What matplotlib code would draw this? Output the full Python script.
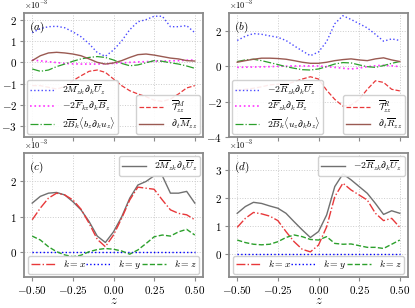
import numpy as np
import matplotlib
matplotlib.use("Agg")
import matplotlib.pyplot as plt
from matplotlib.ticker import ScalarFormatter

plt.rcParams['font.family'] = 'serif'
plt.rcParams['font.serif'] = ['cmr10', 'DejaVu Serif']
plt.rcParams['mathtext.fontset'] = 'cm'
plt.rcParams['axes.formatter.use_mathtext'] = True
plt.rcParams['axes.unicode_minus'] = True

z = [-0.5, -0.45, -0.4, -0.35, -0.3, -0.25, -0.2, -0.15, -0.1, -0.05, 0.0,
     0.05, 0.1, 0.15, 0.2, 0.25, 0.3, 0.35, 0.4, 0.45, 0.5]

# panel (a) / (c), units of 1e-3
M_prod = [1.39, 1.58, 1.67, 1.69, 1.62, 1.43, 1.20, 0.87, 0.46, 0.28, 0.58,
          1.00, 1.53, 1.90, 2.00, 2.16, 2.16, 1.67, 1.67, 1.72, 1.39]
M_F = [0.11, 0.07, 0.03, -0.01, -0.05, -0.07, -0.08, -0.08, -0.08, -0.07, -0.05,
       -0.03, 0.0, 0.02, 0.03, 0.05, 0.06, 0.07, 0.08, 0.10, 0.11]
M_B = [-0.31, -0.42, -0.36, -0.20, -0.08, 0.05, 0.16, 0.23, 0.27, 0.23, 0.11,
       -0.05, -0.16, -0.12, -0.02, 0.08, 0.05, -0.02, -0.08, -0.17, -0.28]
M_T = [-1.09, -1.09, -1.17, -1.25, -1.14, -0.86, -0.63, -0.42, -0.36, -0.47, -0.78,
       -1.09, -1.33, -1.48, -1.61, -1.77, -1.83, -1.72, -1.48, -1.20, -1.09]
M_dt = [0.08, 0.31, 0.44, 0.47, 0.44, 0.39, 0.31, 0.16, 0.0, -0.08, -0.03,
        0.08, 0.23, 0.36, 0.39, 0.34, 0.27, 0.20, 0.16, 0.08, 0.06]
M_kx = [0.92, 1.25, 1.53, 1.67, 1.62, 1.48, 1.22, 0.82, 0.37, 0.16, 0.49,
        0.96, 1.48, 1.84, 1.81, 1.78, 1.48, 1.20, 1.10, 1.06, 0.92]
M_ky = [0.0] * 21
M_kz = [0.46, 0.35, 0.16, 0.02, -0.07, -0.12, -0.08, 0.02, 0.08, 0.11, 0.09,
        0.04, -0.05, 0.07, 0.25, 0.44, 0.49, 0.46, 0.58, 0.65, 0.49]

# panel (b) / (d)
R_prod = [1.46, 1.70, 1.85, 1.81, 1.72, 1.64, 1.46, 1.16, 0.87, 0.60, 0.81,
          1.40, 2.41, 2.86, 2.65, 2.41, 2.17, 1.81, 1.42, 1.55, 1.46]
R_F = [-0.06, -0.05, -0.04, -0.03, -0.02, 0.0, 0.01, 0.02, 0.02, 0.02, 0.02,
       -0.02, -0.06, -0.11, -0.15, -0.10, -0.02, 0.03, 0.06, 0.03, -0.02]
R_B = [0.27, 0.36, 0.40, 0.32, 0.21, 0.10, -0.02, -0.11, -0.19, -0.21, -0.15,
       -0.02, 0.13, 0.21, 0.19, 0.08, -0.02, -0.06, 0.04, 0.17, 0.27]
R_T = [-1.35, -1.30, -1.24, -1.16, -1.05, -1.01, -1.01, -0.88, -0.72, -0.59, -0.72,
       -1.35, -1.87, -2.25, -2.19, -1.87, -1.30, -0.82, -0.91, -1.30, -1.39]
R_dt = [0.23, 0.32, 0.40, 0.46, 0.46, 0.44, 0.40, 0.32, 0.23, 0.17, 0.17,
        0.23, 0.32, 0.38, 0.42, 0.36, 0.32, 0.42, 0.48, 0.36, 0.27]
R_kx = [0.96, 1.28, 1.49, 1.44, 1.36, 1.20, 0.81, 0.45, 0.18, 0.09, 0.33,
        0.98, 2.05, 2.53, 2.29, 2.11, 1.93, 1.46, 1.20, 1.28, 0.96]
R_ky = [0.0] * 21
R_kz = [0.51, 0.42, 0.36, 0.34, 0.36, 0.45, 0.60, 0.69, 0.63, 0.53, 0.51,
        0.63, 0.39, 0.36, 0.37, 0.31, 0.25, 0.25, 0.21, 0.36, 0.51]

xticks = [-0.5, -0.25, 0.0, 0.25, 0.5]

z = np.array(z)
s = 1e-3

fig = plt.figure(figsize=(4.15, 3.08), dpi=100)
W = 0.431
H = 0.402
axa = fig.add_axes([0.058, 0.555, W, H])
axb = fig.add_axes([0.552, 0.555, W, H])
axc = fig.add_axes([0.058, 0.101, W, H])
axd = fig.add_axes([0.552, 0.101, W, H])

c_blue = '#4a4aff'
c_mag = '#ff33ff'
c_green = '#2ca02c'
c_red = '#e8383a'
c_brown = '#9a5a52'
c_grey = '#707070'
fs = 7

def style(ax, ylim, yticks, xlabels):
    ax.set_xlim(-0.55, 0.55)
    ax.set_ylim(ylim[0] * s, ylim[1] * s)
    ax.set_xticks(xticks)
    ax.set_yticks(np.array(yticks) * s)
    fmt = ScalarFormatter(useMathText=True)
    fmt.set_powerlimits((-2, 2))
    ax.yaxis.set_major_formatter(fmt)
    ax.yaxis.get_offset_text().set_fontsize(6)
    ax.grid(True, color='#cccccc', linestyle=':', linewidth=0.7)
    for sp in ax.spines.values():
        sp.set_color('#8a8a8a')
        sp.set_linewidth(1.3)
    ax.tick_params(colors='#8a8a8a', labelcolor='black', labelsize=8, length=3, width=0.8, pad=2)
    if not xlabels:
        ax.tick_params(labelbottom=False)
    else:
        ax.set_xlabel('$z$', fontsize=9, labelpad=-1)

# (a)
axa.plot(z, np.array(M_prod) * s, ':', color=c_blue, lw=1.0, label=r'$2\overline{M}_{zk}\partial_k\overline{U}_z$')
axa.plot(z, np.array(M_F) * s, ':', color=c_mag, lw=1.2, label=r'$-2\overline{F}_{kz}\partial_k\overline{B}_z$')
axa.plot(z, np.array(M_B) * s, '-.', color=c_green, lw=0.9, label=r'$2\overline{B}_k\langle b_z\partial_k u_z\rangle$')
axa.plot(z, np.array(M_T) * s, '--', color=c_red, lw=0.9, label=r'$\overline{\mathcal{T}}^{M}_{zz}$')
axa.plot(z, np.array(M_dt) * s, '-', color=c_brown, lw=1.0, label=r'$\partial_t\overline{M}_{zz}$')
style(axa, (-3.5, 2.3), [-3, -2, -1, 0, 1, 2], False)
h, l = axa.get_legend_handles_labels()
leg1 = axa.legend(h[:3], l[:3], loc='lower left', fontsize=fs, framealpha=0.9, handlelength=2.5,
                  borderpad=0.3, labelspacing=0.2, borderaxespad=0.3)
axa.add_artist(leg1)
axa.legend(h[3:], l[3:], loc='lower right', fontsize=fs, framealpha=0.9, handlelength=2.5,
           borderpad=0.3, labelspacing=0.2, borderaxespad=0.3)
axa.text(0.03, 0.95, '$(a)$', transform=axa.transAxes, fontsize=8, va='top', ha='left')

# (b)
axb.plot(z, np.array(R_prod) * s, ':', color=c_blue, lw=1.0, label=r'$-2\overline{R}_{zk}\partial_k\overline{U}_z$')
axb.plot(z, np.array(R_F) * s, ':', color=c_mag, lw=1.2, label=r'$2\overline{F}_{zk}\partial_k\overline{B}_z$')
axb.plot(z, np.array(R_B) * s, '-.', color=c_green, lw=0.9, label=r'$2\overline{B}_k\langle u_z\partial_k b_z\rangle$')
axb.plot(z, np.array(R_T) * s, '--', color=c_red, lw=0.9, label=r'$\overline{\mathcal{T}}^{R}_{zz}$')
axb.plot(z, np.array(R_dt) * s, '-', color=c_brown, lw=1.0, label=r'$\partial_t\overline{R}_{zz}$')
style(axb, (-4.0, 3.0), [-4, -2, 0, 2], False)
h, l = axb.get_legend_handles_labels()
leg2 = axb.legend(h[:3], l[:3], loc='lower left', fontsize=fs, framealpha=0.9, handlelength=2.5,
                  borderpad=0.3, labelspacing=0.2, borderaxespad=0.3)
axb.add_artist(leg2)
axb.legend(h[3:], l[3:], loc='lower right', fontsize=fs, framealpha=0.9, handlelength=2.5,
           borderpad=0.3, labelspacing=0.2, borderaxespad=0.3)
axb.text(0.03, 0.95, '$(b)$', transform=axb.transAxes, fontsize=8, va='top', ha='left')

def lower(ax, prod, kx, ky, kz, lab, ylim, yticks, tag):
    g, = ax.plot(z, np.array(prod) * s, '-', color=c_grey, lw=1.0, label=lab)
    a, = ax.plot(z, np.array(kx) * s, '-.', color=c_red, lw=1.0, label=r'$k=x$')
    b, = ax.plot(z, np.array(ky) * s, ':', color='blue', lw=1.0, label=r'$k=y$')
    c, = ax.plot(z, np.array(kz) * s, '--', color=c_green, lw=1.0, label=r'$k=z$')
    style(ax, ylim, yticks, True)
    lg = ax.legend([g], [lab], loc='upper right', fontsize=fs, framealpha=0.9, handlelength=2.5,
                   borderpad=0.3, borderaxespad=0.3)
    ax.add_artist(lg)
    ax.legend([a, b, c], [r'$k=x$', r'$k=y$', r'$k=z$'], loc='lower left', ncol=3, mode='expand',
              bbox_to_anchor=(0.02, 0.02, 0.96, 0.2), fontsize=fs, framealpha=0.9, handlelength=2.5,
              borderpad=0.3, borderaxespad=0.0)
    ax.text(0.03, 0.95, tag, transform=ax.transAxes, fontsize=8, va='top', ha='left')

lower(axc, M_prod, M_kx, M_ky, M_kz, r'$2\overline{M}_{zk}\partial_k\overline{U}_z$', (-0.69, 2.8), [0, 1, 2], '$(c)$')
lower(axd, R_prod, R_kx, R_ky, R_kz, r'$-2\overline{R}_{zk}\partial_k\overline{U}_z$', (-0.8, 3.6), [0, 1, 2, 3], '$(d)$')

fig.savefig('out.png', dpi=100)
